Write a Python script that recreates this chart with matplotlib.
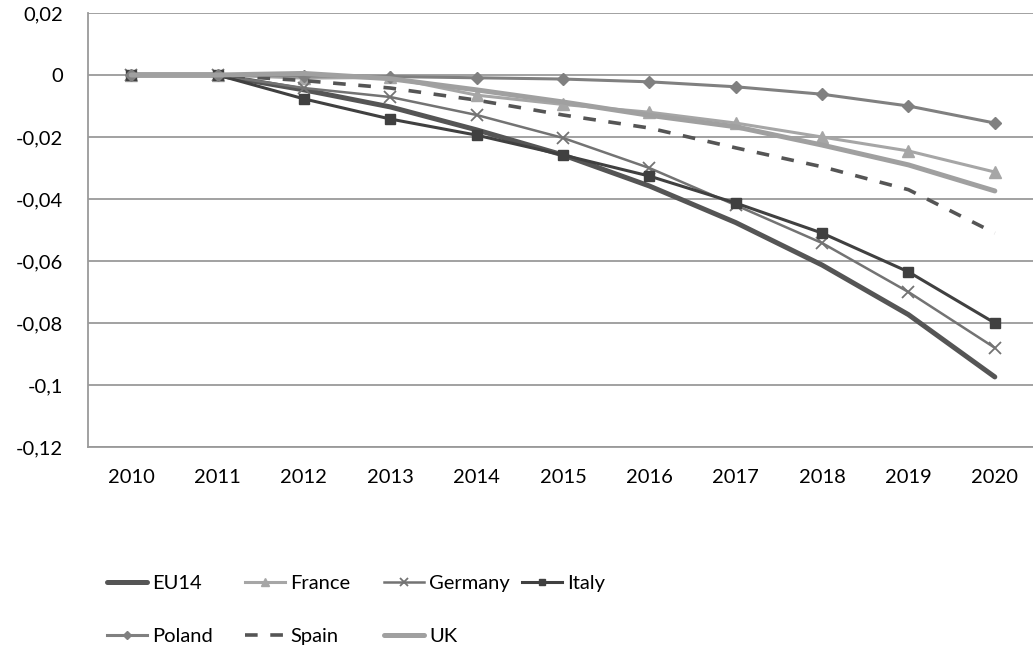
import matplotlib
matplotlib.use('Agg')
import matplotlib.pyplot as plt
from matplotlib.ticker import FuncFormatter

plt.rcParams['font.family'] = ['Lato', 'DejaVu Sans']

years = ['2010', '2011', '2012', '2013', '2014', '2015',
         '2016', '2017', '2018', '2019', '2020']

eu14 = [0, 0, -0.0048, -0.0103, -0.0177, -0.0258, -0.0358, -0.0476, -0.0613, -0.0773, -0.0974]
france = [0, 0, -0.0010, -0.0008, -0.0065, -0.0095, -0.0120, -0.0155, -0.0200, -0.0245, -0.0313]
germany = [0, 0, -0.0042, -0.0071, -0.0129, -0.0203, -0.0300, -0.0420, -0.0542, -0.0700, -0.0880]
italy = [0, 0, -0.0077, -0.0142, -0.0194, -0.0258, -0.0326, -0.0413, -0.0510, -0.0635, -0.0800]
poland = [0, 0, -0.0003, -0.0005, -0.0009, -0.0013, -0.0022, -0.0038, -0.0062, -0.0100, -0.0155]
spain = [0, 0, -0.0018, -0.0042, -0.0081, -0.0129, -0.0171, -0.0235, -0.0296, -0.0370, -0.0510]
uk = [0, 0, 0.0005, -0.0012, -0.0048, -0.0087, -0.0130, -0.0167, -0.0226, -0.0290, -0.0374]

f = plt.figure(figsize=(10.33, 6.53), dpi=100)
ax = f.add_axes([88/1033, 206/653, 950/1033, 434/653])

x = range(len(years))
lines = []
lines += ax.plot(x, eu14, '-', color='#555555', lw=3.6, solid_capstyle='round', label='EU14')
lines += ax.plot(x, france, '-', color='#a6a6a6', lw=2.2, marker='^', ms=8, label='France')
lines += ax.plot(x, germany, '-', color='#737373', lw=1.8, marker='x', ms=8, mew=1.3, label='Germany')
lines += ax.plot(x, italy, '-', color='#404040', lw=2.2, marker='s', ms=6.5, label='Italy')
lines += ax.plot(x, poland, '-', color='#808080', lw=2.2, marker='D', ms=6, label='Poland')
lines += ax.plot(x, spain, '--', color='#555555', lw=2.6, dashes=(3.5, 3.5), label='Spain')
lines += ax.plot(x, uk, '-', color='#a0a0a0', lw=3.6, solid_capstyle='round', label='UK')

ax.set_xlim(-0.5, 10.5)
ax.set_ylim(-0.12, 0.02)
ax.set_yticks([0.02, 0, -0.02, -0.04, -0.06, -0.08, -0.1, -0.12])
ax.yaxis.set_major_formatter(FuncFormatter(lambda v, p: ('%g' % round(v, 4)).replace('.', ',')))
ax.set_xticks(list(x))
ax.set_xticklabels(years)
ax.tick_params(axis='y', length=0, pad=18, labelsize=14.5)
ax.tick_params(axis='x', length=0, pad=16, labelsize=14.5)

ax.grid(axis='y', color='#9a9a9a', lw=1.3)
ax.set_axisbelow(True)
for s in ['top', 'right']:
	ax.spines[s].set_visible(False)
for s in ['left', 'bottom']:
	ax.spines[s].set_color('#9a9a9a')
	ax.spines[s].set_linewidth(1.3)

# one legend per column so the columns get Excel's even spacing
cols = [107, 245, 384, 522]
for i, cx in enumerate(cols):
	hs = [lines[j] for j in (i, i + 4) if j < len(lines)]
	lg = f.legend(hs, [h.get_label() for h in hs], loc='upper left',
	              bbox_to_anchor=(cx/1033, 1 - 575/653), frameon=False,
	              fontsize=14.5, handlelength=2.0, handletextpad=0.25,
	              labelspacing=1.8, borderpad=0, borderaxespad=0,
	              markerscale=0.65)

f.savefig('out.png', dpi=100)
